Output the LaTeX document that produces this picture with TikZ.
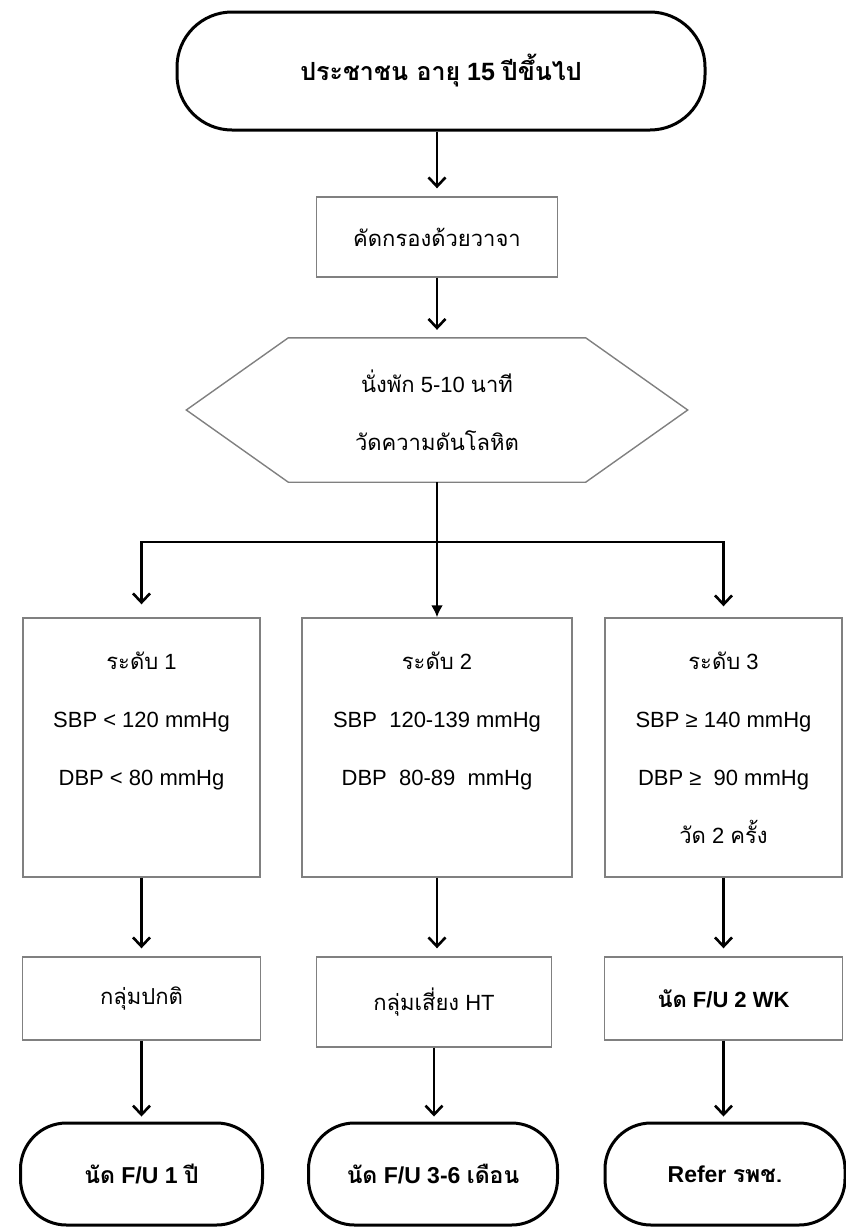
\documentclass[tikz,border=0pt]{standalone}
\usepackage{fontspec}
\setmainfont{Liberation Sans}
\newfontfamily\thaifont[Script=Thai]{Loma}
\usetikzlibrary{arrows.meta}

\begin{document}
\begin{tikzpicture}[x=1pt,y=-1pt,>={Straight Barb[length=9pt,width=17pt]},
	box/.style={draw=black!50,line width=1.4pt,inner sep=0pt,align=center,font=\fontsize{22}{58}\selectfont},
	term/.style={draw=black,line width=3pt,inner sep=0pt,font=\bfseries\fontsize{23}{26}\selectfont},
	link/.style={line width=2.6pt,->,shorten >=8pt}]
	
	\useasboundingbox (0,0) rectangle (846,1229);
	
	% Start and screening
	\node[term,rounded corners=55pt,minimum width=528pt,minimum height=118pt,font=\bfseries\fontsize{25}{28}\selectfont] (start) at (441,71) {{\thaifont ประชาชน อายุ} 15 {\thaifont ปีขึ้นไป}};
	\node[box,minimum width=241pt,minimum height=80pt] (screen) at (437,237) {\thaifont คัดกรองด้วยวาจา};
	
	% Rest and measure (hexagon)
	\node[align=center,minimum width=501pt,minimum height=144pt,font=\fontsize{22}{58}\selectfont] (hex) at (437,410) {{\thaifont นั่งพัก} 5-10 {\thaifont นาที}\\\thaifont วัดความดันโลหิต};
	\draw[black!50,line width=1.4pt] (hex.west) -- ([xshift=102pt]hex.north west) -- ([xshift=-102pt]hex.north east)
		-- (hex.east) -- ([xshift=-102pt]hex.south east) -- ([xshift=102pt]hex.south west) -- cycle;
	
	% Levels
	\node[box,minimum width=237pt,minimum height=259pt] (lvl1) at (141.5,747.5) {{\thaifont ระดับ} 1\\SBP < 120 mmHg\\DBP < 80 mmHg\\\mbox{}};
	\node[box,minimum width=270pt,minimum height=259pt] (lvl2) at (437,747.5) {{\thaifont ระดับ} 2\\SBP\ \ 120-139 mmHg\\DBP\ \ 80-89\ \ mmHg\\\mbox{}};
	\node[box,minimum width=237pt,minimum height=259pt] (lvl3) at (723.5,747.5) {{\thaifont ระดับ} 3\\SBP ≥ 140 mmHg\\DBP ≥\ \ 90 mmHg\\{\thaifont วัด} 2 {\thaifont ครั้ง}};
	
	% Groups
	\node[box,minimum width=238pt,minimum height=83pt] (grp1) at (141.5,998.5) {\thaifont กลุ่มปกติ};
	\node[box,minimum width=235pt,minimum height=90pt] (grp2) at (434,1002) {{\thaifont กลุ่มเสี่ยง} HT};
	\node[box,minimum width=238pt,minimum height=83pt,font=\bfseries\fontsize{22}{26}\selectfont] (grp3) at (723.5,998.5) {{\thaifont นัด} F/U 2 WK};
	
	% Follow up
	\node[term,rounded corners=46pt,minimum width=242pt,minimum height=102pt] (fu1) at (141.5,1174) {{\thaifont นัด} F/U 1 {\thaifont ปี}};
	\node[term,rounded corners=46pt,minimum width=249pt,minimum height=102pt] (fu2) at (433,1174) {{\thaifont นัด} F/U 3-6 {\thaifont เดือน}};
	\node[term,rounded corners=46pt,minimum width=240pt,minimum height=102pt] (fu3) at (725,1174) {Refer {\thaifont รพช.}};
	
	% Arrows
	\draw[link] (start.south -| screen) -- (screen.north);
	\draw[link] (screen) -- (hex.north);
	\coordinate (split) at (437,542);
	\draw[line width=2.6pt] (hex.south) -- (split);
	\draw[link,shorten >=13pt] (split) -| (lvl1.north);
	\draw[link,shorten >=11pt] (split) -| (lvl3.north);
	\draw[line width=2.6pt,-{Latex[length=12pt,width=12pt]}] (split) -- (lvl2.north);
	\foreach \i in {1,2,3} {
		\draw[link] (lvl\i.south) -- (lvl\i.south |- grp\i.north);
		\draw[link,shorten >=5pt] (grp\i.south) -- (grp\i.south |- fu\i.north);
	}

\end{tikzpicture}
\end{document}
